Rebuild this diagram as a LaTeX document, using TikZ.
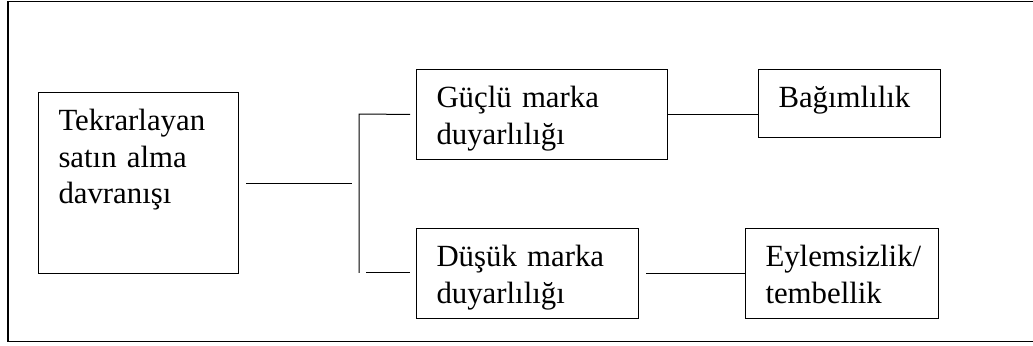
\documentclass[tikz,border=0pt]{standalone}
\usepackage{fontspec}
\setmainfont{Liberation Serif}
\usepackage{tikz}

\begin{document}
\begin{tikzpicture}[x=1pt, y=1pt, line width=0.5pt]
    \tikzstyle{block} = [rectangle, draw, anchor=north west, align=left, inner xsep=10pt, inner ysep=0pt, text height=19.2pt, font=\fontsize{15.4}{18.25}\selectfont]
    \tikzstyle{link} = [draw]

    \useasboundingbox (0,0) rectangle (516.5,-172.5);
    % open frame, runs off the right side
    \draw[line width=0.7pt] (516.5,-0.6) -- (4,-0.6) -- (4,-170.8) -- (516.5,-170.8);

    \node[block, text width=80pt, text depth=71.3pt] (repeat) at (19,-46) {Tekrarlayan\\satın alma\\davranışı};
    \node[block, text width=105.5pt, text depth=25.8pt] (strong) at (208,-34.5) {Güçlü marka\\duyarlılığı};
    \node[block, text width=91pt, text depth=25.8pt] (weak) at (208,-114) {Düşük marka\\duyarlılığı};
    \node[block, text width=71pt, text depth=14.8pt] (dep) at (379,-34.5) {Bağımlılık};
    \node[block, text width=76.5pt, text depth=25.8pt] (inert) at (372.5,-114) {Eylemsizlik/\\tembellik};

    \coordinate (forktop) at (179.5,-57);
    \coordinate (forkbot) at (179.5,-136.4);

    \draw[link, shorten <=3.5pt, shorten >=3.5pt] (repeat.east) -- (repeat.east -| forktop);
    \draw[link, shorten >=3pt] (forkbot) -- (forktop) -- (strong.west);
    \draw[link, shorten <=3.5pt, shorten >=3pt] (forkbot) -- (forkbot -| weak.west);
    \draw[link] (strong.east) -- (strong.east -| dep.west);
    \draw[link, shorten <=3.5pt] (weak.east) -- (inert.west);
\end{tikzpicture}
\end{document}
